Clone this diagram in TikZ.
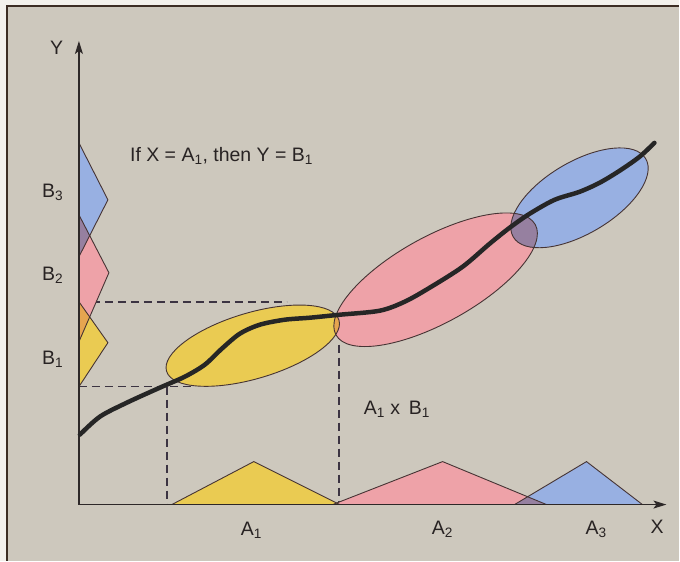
\documentclass[tikz,border=0pt]{standalone}
\usepackage{fontspec}
\setmainfont{Liberation Sans}
\usetikzlibrary{arrows.meta, positioning}

\definecolor{paperwhite}{RGB}{243,241,236}
\definecolor{bggray}{RGB}{205,200,189}
\definecolor{framedark}{RGB}{60,45,35}
\definecolor{axisdark}{RGB}{45,40,40}
\definecolor{edgebrown}{RGB}{70,52,52}
\definecolor{guidegray}{RGB}{60,52,66}
\definecolor{txtdark}{RGB}{40,35,35}
\definecolor{mfyellow}{RGB}{234,203,82}
\definecolor{mfpink}{RGB}{238,162,168}
\definecolor{mfblue}{RGB}{152,176,226}
\definecolor{ovpurple}{RGB}{150,128,160}
\definecolor{ovorange}{RGB}{230,165,80}

\begin{document}
\begin{tikzpicture}[
    x=1pt, y=-1pt,
    lbl/.style={font=\fontsize{19.5}{23}\selectfont, inner sep=0pt, anchor=base west, text=txtdark},
    mfedge/.style={draw=edgebrown, line width=0.9pt, line join=miter},
    guide/.style={draw=guidegray, line width=1.6pt, dash pattern=on 8pt off 5pt},
    axis/.style={draw=axisdark, line width=1.3pt, -{Stealth[length=13pt, width=8pt, inset=3pt]}},
    relcurve/.style={draw=black!85, line width=4.5pt, line cap=round},
    ellA/.style={rotate around={16.5:(cA)}},
    ellB/.style={rotate around={29:(cB)}},
    ellC/.style={rotate around={30.6:(cC)}},
]
    % Paper and frame
    \fill[paperwhite] (0,0) rectangle (680,561);
    \fill[bggray] (7,6) rectangle (680,561);
    \draw[framedark, line width=1.2pt] (7,561) -- (7,6) -- (680,6);
    \useasboundingbox (0,0) rectangle (680,561);

    % Key points
    \coordinate (O) at (79,505);
    \coordinate (ytip) at (79,41);
    \coordinate (xtip) at (667,505);
    \coordinate (cA) at (253,346);
    \coordinate (cB) at (436,280);
    \coordinate (cC) at (580,198);

    % Guide lines
    \draw[guide] (79,302) -- (287,302);
    \draw[guide] (79,387) -- (193,387);
    \draw[guide] (167,387) -- (O -| 167,387);
    \draw[guide] (339,345) -- (O -| 339,345);

    % Membership functions on Y
    \fill[mfblue] (79,143) -- (108,200) -- (79,257) -- cycle;
    \fill[mfpink] (79,215) -- (109,273) -- (79,342) -- cycle;
    \fill[mfyellow] (79,302) -- (108,343) -- (79,387) -- cycle;
    \begin{scope}
        \clip (79,143) -- (108,200) -- (79,257) -- cycle;
        \fill[ovpurple] (79,215) -- (109,273) -- (79,342) -- cycle;
    \end{scope}
    \begin{scope}
        \clip (79,215) -- (109,273) -- (79,342) -- cycle;
        \fill[ovorange] (79,302) -- (108,343) -- (79,387) -- cycle;
    \end{scope}
    \draw[mfedge] (79,143) -- (108,200) -- (79,257);
    \draw[mfedge] (79,215) -- (109,273) -- (79,342);
    \draw[mfedge] (79,302) -- (108,343) -- (79,387);

    % Membership functions on X
    \fill[mfyellow] (172,505) -- (254,462) -- (340,505) -- cycle;
    \fill[mfpink] (333,505) -- (443,462) -- (547,505) -- cycle;
    \fill[mfblue] (515,505) -- (587,462) -- (643,505) -- cycle;
    \begin{scope}
        \clip (172,505) -- (254,462) -- (340,505) -- cycle;
        \fill[ovorange] (333,505) -- (443,462) -- (547,505) -- cycle;
    \end{scope}
    \begin{scope}
        \clip (333,505) -- (443,462) -- (547,505) -- cycle;
        \fill[ovpurple] (515,505) -- (587,462) -- (643,505) -- cycle;
    \end{scope}
    \draw[mfedge] (172,505) -- (254,462) -- (340,505);
    \draw[mfedge] (333,505) -- (443,462) -- (547,505);
    \draw[mfedge] (515,505) -- (587,462) -- (643,505);

    % Fuzzy patches
    \fill[mfyellow, ellA] (cA) ellipse [x radius=90pt, y radius=33pt];
    \fill[mfpink, ellB] (cB) ellipse [x radius=114pt, y radius=43pt];
    \fill[mfblue, ellC] (cC) ellipse [x radius=77pt, y radius=36pt];
    \begin{scope}
        \clip[ellA] (cA) ellipse [x radius=90pt, y radius=33pt];
        \fill[ovorange, ellB] (cB) ellipse [x radius=114pt, y radius=43pt];
    \end{scope}
    \begin{scope}
        \clip[ellB] (cB) ellipse [x radius=114pt, y radius=43pt];
        \fill[ovpurple, ellC] (cC) ellipse [x radius=77pt, y radius=36pt];
    \end{scope}
    \draw[mfedge, ellA] (cA) ellipse [x radius=90pt, y radius=33pt];
    \draw[mfedge, ellB] (cB) ellipse [x radius=114pt, y radius=43pt];
    \draw[mfedge, ellC] (cC) ellipse [x radius=77pt, y radius=36pt];

    % Axes
    \draw[axis] (O) -- (ytip);
    \draw[axis] (O) -- (xtip);

    % Relation curve
    \draw[relcurve] plot[smooth, tension=0.5] coordinates {
        (80,435) (100,417) (127,403) (160,388) (185,377) (205,365)
        (222,349) (240,334) (260,325) (285,320) (310,318) (340,315)
        (380,311) (405,302) (430,288) (463,267) (490,244) (510,228)
        (530,214) (555,200) (580,192) (600,183) (620,171) (640,157) (655,143)};

    % Labels
    \node[lbl] (ylab) at (50,55) {Y};
    \node[lbl] (xlab) at (651,534) {X};
    \node[lbl] (b3) at (42,198) {B\textsubscript{3}};
    \node[lbl] (b2) at (42,281) {B\textsubscript{2}};
    \node[lbl] (b1) at (42,365) {B\textsubscript{1}};
    \node[lbl] (a1) at (241,536) {A\textsubscript{1}};
    \node[lbl] (a2) at (432,535) {A\textsubscript{2}};
    \node[lbl] (a3) at (586,535) {A\textsubscript{3}};
    \node[lbl] (rule) at (130,162) {If X = A\textsubscript{1}, then Y = B\textsubscript{1}};
    \node[lbl] (prod) at (364,415) {A\textsubscript{1} x\, B\textsubscript{1}};
\end{tikzpicture}
\end{document}
